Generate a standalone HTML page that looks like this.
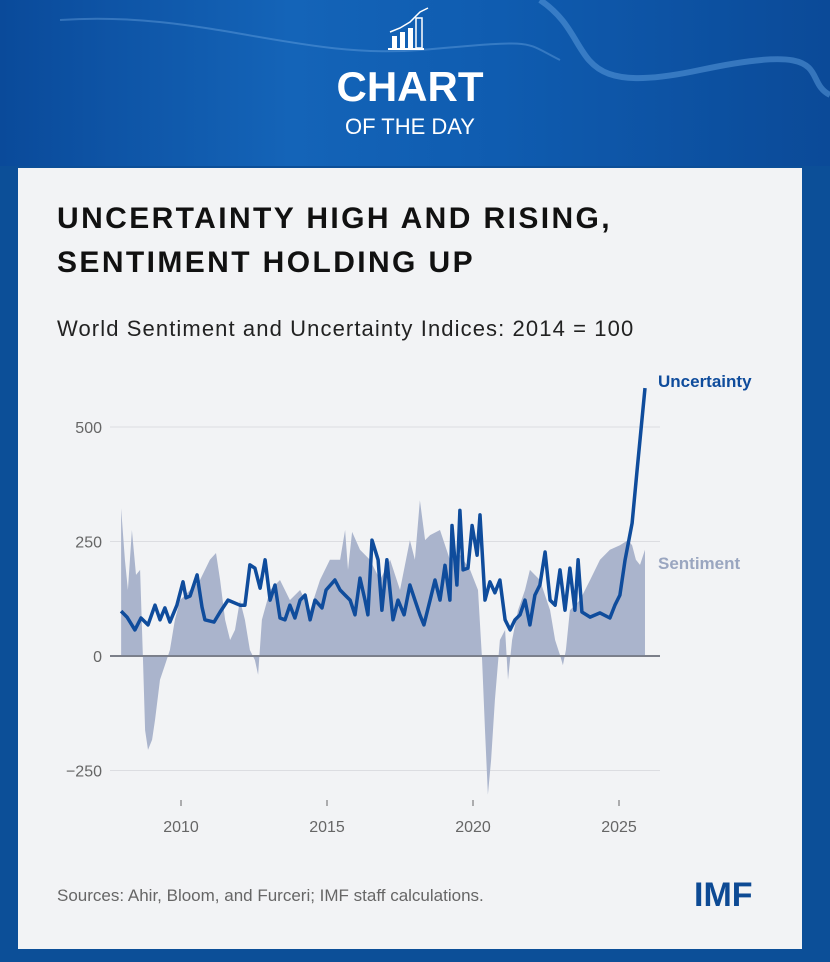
<!DOCTYPE html>
<html><head><meta charset="utf-8">
<style>
body{margin:0;width:830px;height:962px;overflow:hidden;background:#0c4f98;font-family:"Liberation Sans",sans-serif;position:relative}
#hdr{position:absolute;left:0;top:0;width:830px;height:166px;background:linear-gradient(90deg,#0a4a9a 0%,#1464b8 35%,#0f5cb0 60%,#0b4a98 100%)}
#card{position:absolute;left:18px;top:168px;width:784px;height:781px;background:#f2f3f5}
.t{position:absolute;white-space:nowrap}
</style></head><body>
<div id="hdr">
<svg width="830" height="166" style="position:absolute;left:0;top:0">
<path d="M540 0 C600 40,560 100,700 70 S800 80,830 95" stroke="#5fa0e0" stroke-width="6" fill="none" opacity="0.5"/>
<path d="M60 20 C200 10,300 60,420 50 S520 40,560 60" stroke="#7fb5ea" stroke-width="2" fill="none" opacity="0.35"/>
<g fill="#fff"><rect x="392" y="36" width="5" height="12"/><rect x="400" y="32" width="5" height="16"/><rect x="408" y="28" width="5" height="20"/><rect x="416" y="18" width="6" height="30" fill="none" stroke="#fff" stroke-width="1.5"/><rect x="388" y="48" width="36" height="2"/></g>
<polyline points="390,32 400,28 410,22 420,12 428,8" stroke="#fff" stroke-width="1.5" fill="none"/>
<text x="410" y="101" text-anchor="middle" fill="#fff" font-family="Liberation Sans" font-weight="bold" font-size="42">CHART</text>
<text x="410" y="134" text-anchor="middle" fill="#fff" font-family="Liberation Sans" font-size="22">OF THE DAY</text>
</svg></div>
<div id="card"></div>
<div class="t" style="left:57px;top:197px;font-size:30px;font-weight:bold;line-height:44px;letter-spacing:2.4px;color:#111">UNCERTAINTY HIGH AND RISING,<br>SENTIMENT HOLDING UP</div>
<div class="t" style="left:57px;top:316px;font-size:22px;letter-spacing:1.1px;color:#222">World Sentiment and Uncertainty Indices: 2014 = 100</div>
<svg id="chart" width="830" height="962" style="position:absolute;left:0;top:0"></svg>
<div class="t" style="left:57px;top:886px;font-size:17px;color:#666">Sources: Ahir, Bloom, and Furceri; IMF staff calculations.</div>
<div class="t" style="left:694px;top:876px;font-size:34px;font-weight:bold;color:#0d4a94">IMF</div>
<script>
const yTicks=[-250,0,250,500];
const xTicks=[2010,2015,2020,2025];
const uncT=[2007.95,2008.15,2008.42,2008.63,2008.87,2009.11,2009.28,2009.45,2009.62,2009.86,2010.07,2010.17,2010.31,2010.55,2010.72,2010.82,2011.13,2011.34,2011.61,2012.02,2012.19,2012.36,2012.53,2012.71,2012.88,2013.05,2013.22,2013.39,2013.56,2013.73,2013.9,2014.08,2014.25,2014.42,2014.59,2014.83,2014.97,2015.27,2015.45,2015.62,2015.79,2015.96,2016.13,2016.3,2016.4,2016.54,2016.75,2016.88,2017.05,2017.26,2017.43,2017.64,2017.84,2018.01,2018.18,2018.32,2018.53,2018.7,2018.87,2019.04,2019.21,2019.28,2019.45,2019.55,2019.66,2019.83,2019.97,2020.14,2020.24,2020.41,2020.58,2020.75,2020.92,2021.1,2021.27,2021.44,2021.61,2021.78,2021.95,2022.12,2022.29,2022.47,2022.64,2022.81,2022.98,2023.15,2023.32,2023.49,2023.6,2023.73,2024.01,2024.35,2024.69,2024.86,2025.03,2025.21,2025.45,2025.62,2025.89];
const uncV=[98,85,57,83,68,111,79,105,74,111,162,127,131,177,107,79,74,96,122,111,111,199,192,148,210,122,155,83,79,111,83,122,133,79,122,105,144,166,144,133,122,90,170,122,90,253,210,100,210,79,122,90,155,122,90,68,122,166,122,198,122,285,155,318,188,192,285,220,308,122,162,138,166,79,57,79,90,122,68,133,155,227,122,111,188,100,192,100,210,96,85,94,83,111,133,210,290,406,585];
const senT=[2007.95,2008.08,2008.18,2008.32,2008.46,2008.6,2008.7,2008.77,2008.87,2009.01,2009.11,2009.28,2009.45,2009.62,2009.79,2009.97,2010.31,2010.65,2010.99,2011.2,2011.34,2011.51,2011.68,2011.85,2012.02,2012.19,2012.36,2012.53,2012.64,2012.77,2013.05,2013.39,2013.73,2014.08,2014.42,2014.76,2015.1,2015.45,2015.62,2015.72,2015.86,2016.13,2016.47,2016.82,2017.16,2017.5,2017.84,2018.01,2018.18,2018.36,2018.53,2018.87,2019.21,2019.55,2019.9,2020.17,2020.31,2020.41,2020.51,2020.62,2020.75,2020.92,2021.1,2021.2,2021.34,2021.54,2021.78,2021.95,2022.29,2022.64,2022.81,2022.98,2023.08,2023.18,2023.32,2023.66,2024.01,2024.35,2024.69,2025.03,2025.31,2025.45,2025.58,2025.72,2025.89];
const senV=[323,210,144,275,177,188,-9,-162,-205,-183,-140,-52,-20,13,79,122,144,166,210,225,166,79,35,57,122,79,13,-9,-41,79,144,166,122,144,100,166,210,210,275,188,271,232,210,166,210,144,253,210,340,253,264,275,210,221,188,144,-9,-162,-303,-227,-96,35,57,-52,35,100,144,188,166,100,35,2,-20,13,100,122,166,210,232,242,253,242,210,199,232];
const NS="http://www.w3.org/2000/svg";
const svg=document.getElementById('chart');
const X=t=>181+(t-2010)*29.2;
const Y=v=>656-v*0.458;
function mk(tag,attrs){const e=document.createElementNS(NS,tag);for(const k in attrs)e.setAttribute(k,attrs[k]);svg.appendChild(e);return e;}
yTicks.forEach(v=>{
 const g=mk('line',{x1:110,x2:660,y1:Y(v),y2:Y(v),stroke:v===0?'#6b6f7a':'#dcdde1','stroke-width':v===0?1.5:1});
 
 
 const t=mk('text',{x:102,y:Y(v)+6,'text-anchor':'end','font-size':16,fill:'#666','font-family':'Liberation Sans'});
 t.textContent=v<0?'\u2212'+Math.abs(v):String(v);
 
 
});
xTicks.forEach(yr=>{
 const l=mk('line',{x1:X(yr),x2:X(yr),y1:800,y2:806,stroke:'#666'});
 
 
 const t=mk('text',{x:X(yr),y:832,'text-anchor':'middle','font-size':16,fill:'#666','font-family':'Liberation Sans'});
 t.textContent=yr;
 
 
});
let d='M'+X(senT[0])+' '+Y(0);
senT.forEach((t,i)=>{d+=' L'+X(t).toFixed(1)+' '+Y(senV[i]).toFixed(1);});
d+=' L'+X(senT[senT.length-1])+' '+Y(0)+' Z';
const area=mk('path',{d:d,fill:'#aab4cc'});


const z=mk('line',{x1:110,x2:660,y1:Y(0),y2:Y(0),stroke:'#6b6f7a','stroke-width':1.5});


const pts=uncT.map((t,i)=>X(t).toFixed(1)+','+Y(uncV[i]).toFixed(1)).join(' ');
const line=mk('polyline',{points:pts,fill:'none',stroke:'#0f4c9c','stroke-width':3.5,'stroke-linejoin':'round'});


const l1=mk('text',{x:658,y:387,'font-size':17,'font-weight':'bold',fill:'#0f4c9c','font-family':'Liberation Sans'});
l1.textContent='Uncertainty';


const l2=mk('text',{x:658,y:569,'font-size':17,'font-weight':'bold',fill:'#9aa6c0','font-family':'Liberation Sans'});
l2.textContent='Sentiment';


</script>
</body></html>
